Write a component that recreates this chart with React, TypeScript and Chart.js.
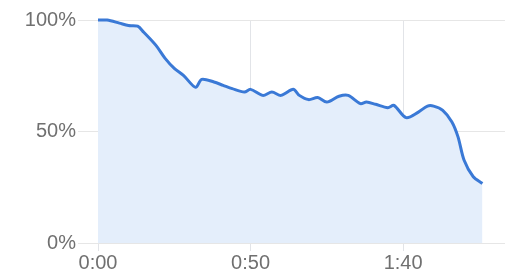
import React, { useEffect, useRef } from "react";
import { Chart, registerables } from "chart.js";

Chart.register(...registerables);

const times: number[] = [0, 3, 7, 10, 13, 15, 19, 22, 25, 28, 32, 34, 38, 41, 44, 48, 50, 54, 57, 60, 64, 66, 69, 72, 75, 79, 82, 86, 88, 91, 95, 97, 101, 105, 108, 110, 113, 116, 118, 120, 123, 126];
const retention: number[] = [100, 100, 98.6, 97.5, 97.2, 94.5, 88.6, 82.8, 78.3, 75.2, 69.8, 73.4, 72.2, 70.7, 69.2, 67.7, 68.9, 66.2, 67.7, 66.2, 68.9, 66.2, 64.3, 65.2, 63.2, 65.8, 66.2, 62.5, 63.2, 62.2, 60.7, 61.7, 56.2, 58.7, 61.4, 61.4, 59.5, 54.3, 47.6, 37.1, 29.7, 26.7];
const xMax = 133.4;
const xTicks: number[] = [0, 50, 100];
const yTicks: number[] = [0, 50, 100];

function fmtTime(s: number): string {
  const m = Math.floor(s / 60);
  const sec = Math.round(s - m * 60);
  return `${m}:${sec < 10 ? "0" : ""}${sec}`;
}

export default function App() {
  const ref = useRef<HTMLCanvasElement | null>(null);
  useEffect(() => {
    document.body.style.margin = "0";
    const ctx = ref.current!;
    const font = { family: "'Liberation Sans', Arial, sans-serif", size: 20 };
    const chart = new Chart(ctx, {
      type: "line",
      data: {
        datasets: [
          {
            data: times.map((t, i) => ({ x: t, y: retention[i] })),
            borderColor: "#3a79d6",
            backgroundColor: "#e4eefb",
            borderWidth: 3,
            fill: "origin",
            pointRadius: 0,
            tension: 0.3,
            clip: false as any,
          },
        ],
      },
      options: {
        responsive: false,
        animation: false,
        layout: { padding: { top: 20, right: 2, left: 0, bottom: 0 } },
        plugins: { legend: { display: false }, tooltip: { enabled: false } },
        scales: {
          x: {
            type: "linear",
            min: 0,
            max: xMax,
            border: { display: false },
            grid: { color: "#e2e4e8", lineWidth: 1, tickLength: 8, drawTicks: true },
            afterBuildTicks: (s: any) => {
              s.ticks = xTicks.map((v) => ({ value: v }));
            },
            ticks: {
              padding: 0,
              color: "#707070",
              font,
              maxRotation: 0,
              autoSkip: false,
              callback: (v: any) => fmtTime(Number(v)),
            },
            afterFit: (s: any) => {
              s.height = 29;
            },
          },
          y: {
            min: 0,
            max: 100,
            border: { display: false },
            grid: { color: "#e6e6e6", lineWidth: 1, tickLength: 20 },
            afterBuildTicks: (s: any) => {
              s.ticks = yTicks.map((v) => ({ value: v }));
            },
            ticks: {
              padding: 2,
              color: "#707070",
              font,
              callback: (v: any) => `${v}%`,
            },
            afterFit: (s: any) => {
              s.width = 98;
            },
          },
        },
      },
    });
    return () => chart.destroy();
  }, []);
  return (
    <div style={{ position: "absolute", left: 0, top: 0, width: 507, height: 272, background: "#fff" }}>
      <canvas ref={ref} width={507} height={272} style={{ display: "block" }} />
    </div>
  );
}
